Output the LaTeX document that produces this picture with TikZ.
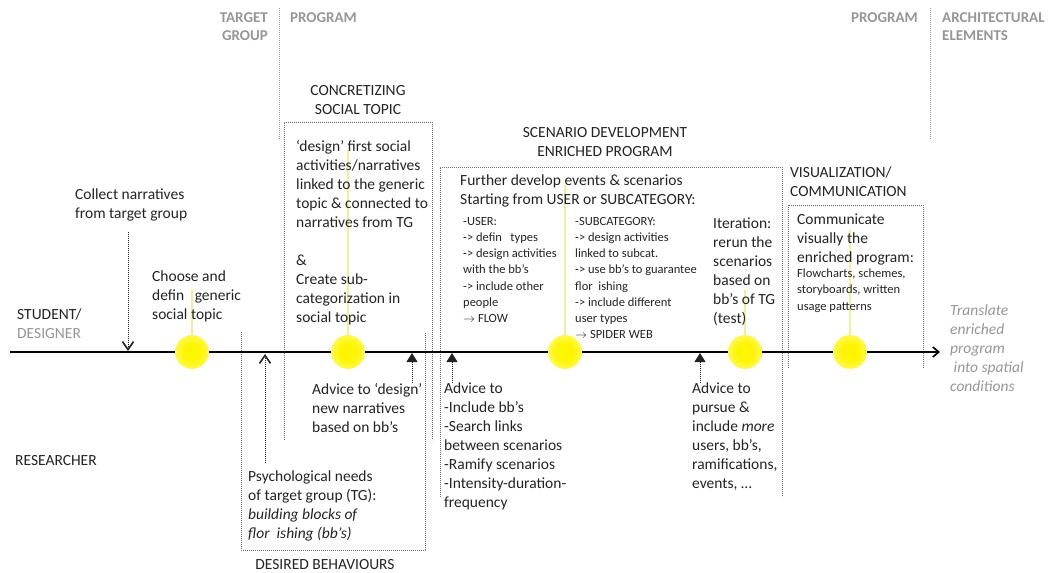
\documentclass[tikz,border=0pt]{standalone}
\usepackage{fontspec}
\setmainfont{Carlito}
\usetikzlibrary{arrows.meta,positioning}
\definecolor{InkDark}{RGB}{35,35,35}
\definecolor{HeadGray}{RGB}{150,150,150}
\definecolor{GlowYellow}{RGB}{255,245,0}
\definecolor{GlowLine}{RGB}{242,238,160}
\pgfdeclareradialshading{glowshade}{\pgfpoint{0bp}{0bp}}{color(0bp)=(GlowYellow); color(12bp)=(GlowYellow); color(30bp)=(GlowYellow!55!white); color(50bp)=(white)}
\tikzset{
	body/.style={anchor=north west, inner sep=0pt, align=left, text=InkDark, font=\fontsize{15.5}{19}\selectfont},
	small/.style={body, font=\fontsize{12.5}{16.2}\selectfont},
	head/.style={inner sep=0pt, align=center, text=InkDark, font=\fontsize{15.5}{19}\selectfont},
	tophead/.style={inner sep=0pt, text=HeadGray, font=\fontsize{15}{18.5}\selectfont\bfseries},
	dotline/.style={draw=gray!85!black, line width=1pt, dash pattern=on 1.2pt off 0.8pt},
	glowline/.style={draw=GlowLine, line width=1.3pt},
	timeline/.style={draw=black, line width=1.6pt, -{Straight Barb[length=6pt,width=10pt]}},
	openup/.style={dotline, -{Straight Barb[length=8pt,width=11pt,line width=1.6pt]}, draw=InkDark},
	fillup/.style={dotline, -{Triangle[length=9pt,width=11pt]}, draw=InkDark},
}
\begin{document}
\begin{tikzpicture}[x=1pt, y=-1pt]
	\useasboundingbox (0,0) rectangle (1053,573);

	% points on the time line
	\coordinate (tl0) at (10,352);
	\coordinate (tl1) at (940,352);
	\coordinate (g1) at (192,352);
	\coordinate (g2) at (348,352);
	\coordinate (g3) at (565,352);
	\coordinate (g4) at (745,352);
	\coordinate (g5) at (850,352);
	\coordinate (a1) at (128,351);
	\coordinate (a2) at (265,354);
	\coordinate (a3) at (412,353);
	\coordinate (a4) at (452,353);
	\coordinate (a5) at (700,353);

	% faint yellow threads behind the text
	\draw[glowline] (192,290) -- (g1);
	\draw[glowline] (348,150) -- (g2);
	\draw[glowline] (565,185) -- (g3);
	\draw[glowline] (745,290) -- (g4);
	\draw[glowline] (850,230) -- (g5);

	% column headers
	\node[tophead, anchor=north east, align=right] (tgroup) at (268,12) {TARGET\\GROUP};
	\node[tophead, anchor=north west] (progl) at (290,12) {PROGRAM};
	\node[tophead, anchor=north east] (progr) at (918,12) {PROGRAM};
	\node[tophead, anchor=north west, align=left] (archel) at (942,12) {ARCHITECTURAL\\ELEMENTS};
	\draw[dotline, draw=gray!80] (279,8) -- (279,140);
	\draw[dotline, draw=gray!80] (930,8) -- (930,140);

	% dotted frames
	\draw[dotline] (284,440) -- (284,122) -- (432,122) -- (432,440);
	\draw[dotline] (440,497) -- (440,167) -- (782,167) -- (782,497);
	\draw[dotline] (788,368) -- (788,205) -- (923,205) -- (923,368);
	\draw[dotline] (241,332) -- (241,550) -- (425,550) -- (425,332);

	% time line
	\draw[timeline] (tl0) -- (tl1);
	\foreach \g in {g1,g2,g3,g4,g5}
		\shade[shading=glowshade] (\g) circle (17pt);

	% actors
	\node[body] (student) at (17,309) {STUDENT/\\\textcolor{HeadGray}{DESIGNER}};
	\node[body] (researcher) at (15,455) {RESEARCHER};

	% student / designer steps
	\node[body] (collect) at (75,189) {Collect narratives\\from target group};
	\node[body] (choose) at (152,271) {Choose and\\defin\ \ \ generic\\social topic};
	\node[head] (concrhead) at (358,100.5) {CONCRETIZING\\SOCIAL TOPIC};
	\node[body] (concr) at (296,140) {‘design’ first social\\activities/narratives\\linked to the generic\\topic \& connected to\\narratives from TG\\[19pt]\&\\Create sub-\\categorization in\\social topic};
	\node[head] (scenhead) at (605,142.5) {SCENARIO DEVELOPMENT\\ENRICHED PROGRAM};
	\node[body] (further) at (460,175) {Further develop events \& scenarios\\Starting from USER or SUBCATEGORY:};
	\node[small] (user) at (463,217) {-USER:\\-> defin\ \ \ types\\-> design activities\\with the bb’s\\-> include other\\people\\$\rightarrow$ FLOW};
	\node[small] (subcat) at (575,217) {-SUBCATEGORY:\\-> design activities\\linked to subcat.\\-> use bb’s to guarantee\\flor\ \ ishing\\-> include different\\user types\\$\rightarrow$ SPIDER WEB};
	\node[body] (iteration) at (713,218) {Iteration:\\rerun the\\scenarios\\based on\\bb’s of TG\\(test)};
	\node[body, anchor=west] (vishead) at (790,181.5) {VISUALIZATION/\\COMMUNICATION};
	\node[body] (comm) at (797,214) {Communicate\\visually the\\enriched program:};
	\node[small, anchor=north west] (commsmall) at ([yshift=-3pt]comm.south west) {Flowcharts, schemes,\\storyboards, written\\usage patterns};
	\node[body, text=HeadGray, font=\fontsize{15.5}{19}\selectfont\itshape] (translate) at (950,305) {Translate\\enriched\\program\\\ into spatial\\conditions};

	% researcher input
	\node[body, font=\fontsize{15.5}{18.7}\selectfont] (psych) at (248,471) {Psychological needs\\of target group (TG):\\\textit{building blocks of}\\\textit{flor\ \ ishing (bb’s)}};
	\node[head] (desired) at (325,565) {DESIRED BEHAVIOURS};
	\node[body] (advice1) at (312,383) {Advice to ‘design’\\new narratives\\based on bb’s};
	\node[body] (advice2) at (444,383) {Advice to\\-Include bb’s\\-Search links\\between scenarios\\-Ramify scenarios\\-Intensity-duration-\\frequency};
	\node[body] (advice3) at (692,383) {Advice to\\pursue \&\\include \textit{more}\\users, bb’s,\\ramifications,\\events, …};

	% arrows onto the time line
	\draw[openup, shorten <=10pt] (collect.south -| a1) -- (a1);
	\draw[openup] ([yshift=8pt]psych.north -| a2) -- (a2);
	\draw[fillup] (advice1.north -| a3) -- (a3);
	\draw[fillup] (advice2.north -| a4) -- (a4);
	\draw[fillup] (advice3.north -| a5) -- (a5);
\end{tikzpicture}
\end{document}
